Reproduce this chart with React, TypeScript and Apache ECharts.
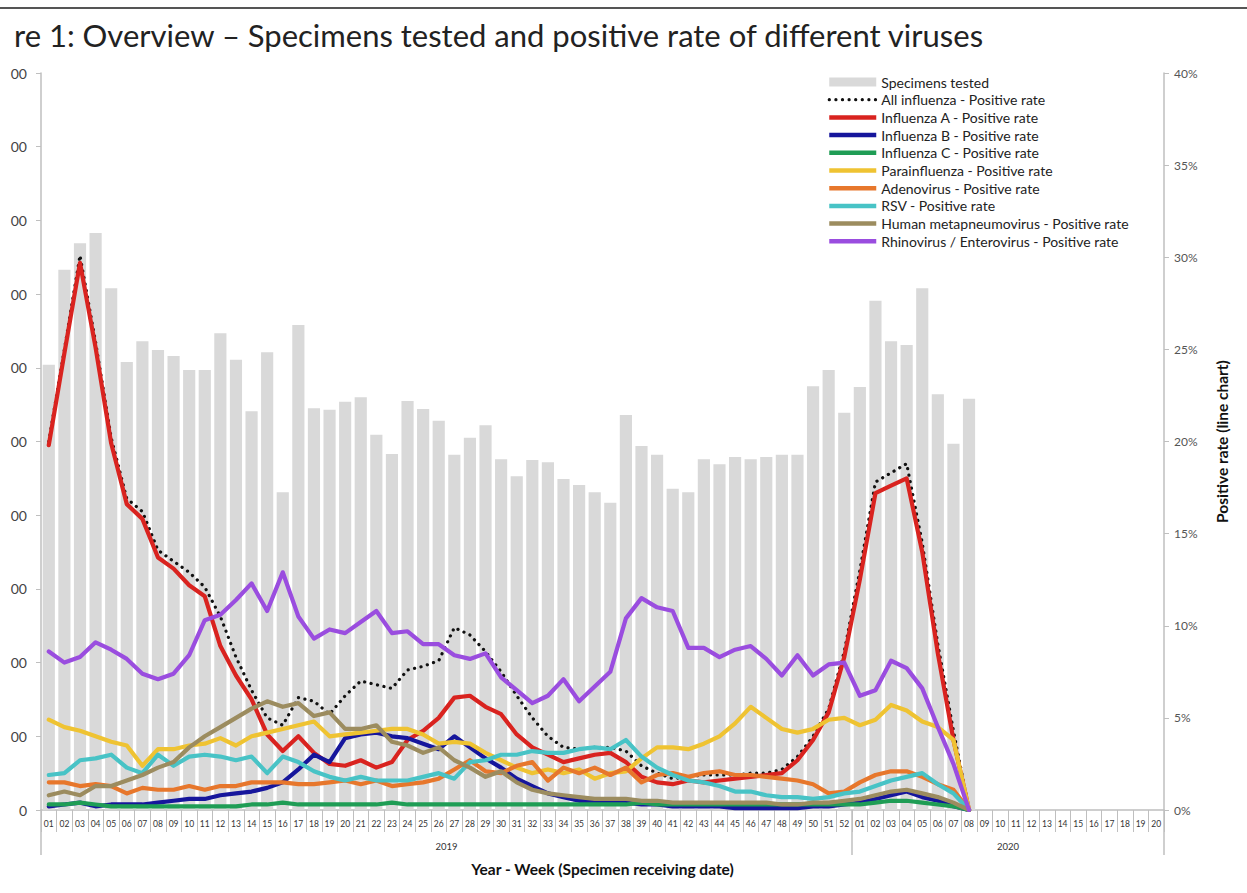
import React, { useEffect, useRef } from 'react';
import * as echarts from 'echarts';

// ---- categories / tick labels ----
const weekLabels = [
  '01','02','03','04','05','06','07','08','09','10','11','12','13','14','15','16','17','18','19','20',
  '21','22','23','24','25','26','27','28','29','30','31','32','33','34','35','36','37','38','39','40',
  '41','42','43','44','45','46','47','48','49','50','51','52',
  '01','02','03','04','05','06','07','08','09','10','11','12','13','14','15','16','17','18','19','20',
];
const yearLabels = ['2019', '2020'];
const yearWeekCounts = [52, 20];
const countTickLabels = ['0', '00', '00', '00', '00', '00', '00', '00', '00', '00', '00'];
const rateTickLabels = ['0%', '5%', '10%', '15%', '20%', '25%', '30%', '35%', '40%'];

// ---- series values (2019-W01 .. 2020-W08) ----
const specimensTested = [
  604, 733, 769, 783, 708, 608, 636, 624, 616, 597,
  597, 647, 611, 541, 621, 431, 658, 545, 543, 554,
  560, 509, 483, 555, 544, 528, 482, 505, 522, 476,
  453, 475, 472, 449, 441, 431, 417, 536, 494, 482,
  436, 431, 476, 469, 479, 476, 479, 482, 482, 575,
  597, 539, 574, 691, 636, 631, 708, 564, 497, 558,
];
const allInfluenza = [
  20.0, 25.0, 30.1, 25.4, 20.2, 16.9, 16.2, 14.1, 13.5, 12.9,
  12.1, 10.5, 8.3, 6.5, 5.0, 4.6, 6.1, 5.9, 5.2, 6.2,
  7.0, 6.8, 6.6, 7.6, 7.8, 8.1, 9.9, 9.5, 8.6, 7.5,
  6.2, 5.0, 4.0, 3.4, 3.3, 3.4, 3.4, 3.2, 2.4, 2.0,
  1.7, 1.8, 1.9, 1.9, 1.9, 2.0, 2.0, 2.2, 2.9, 4.0,
  5.5, 8.6, 13.0, 17.8, 18.3, 18.8, 14.5, 9.0, 4.3, 0,
];
const influenzaA = [
  19.8, 24.8, 29.7, 25.1, 19.9, 16.6, 15.8, 13.7, 13.1, 12.2,
  11.6, 8.9, 7.3, 6.0, 4.1, 3.2, 4.0, 3.1, 2.5, 2.4,
  2.7, 2.3, 2.6, 3.8, 4.3, 5.0, 6.1, 6.2, 5.6, 5.2,
  4.1, 3.4, 3.0, 2.6, 2.8, 3.0, 3.1, 2.6, 1.8, 1.5,
  1.4, 1.6, 1.5, 1.6, 1.7, 1.8, 1.9, 2.0, 2.7, 3.8,
  5.3, 8.3, 12.5, 17.2, 17.6, 18.0, 14.0, 8.5, 3.8, 0,
];
const influenzaB = [
  0.2, 0.3, 0.4, 0.2, 0.3, 0.3, 0.3, 0.4, 0.5, 0.6,
  0.6, 0.8, 0.9, 1.0, 1.2, 1.5, 2.2, 3.0, 2.6, 3.9,
  4.1, 4.2, 4.0, 3.9, 3.6, 3.3, 4.0, 3.4, 2.8, 2.3,
  1.7, 1.3, 0.9, 0.7, 0.5, 0.5, 0.4, 0.4, 0.3, 0.3,
  0.2, 0.2, 0.2, 0.2, 0.1, 0.1, 0.1, 0.1, 0.1, 0.2,
  0.2, 0.3, 0.4, 0.6, 0.8, 1.0, 0.7, 0.5, 0.2, 0,
];
const influenzaC = [
  0.3, 0.3, 0.4, 0.3, 0.2, 0.2, 0.2, 0.2, 0.2, 0.2,
  0.2, 0.2, 0.2, 0.3, 0.3, 0.4, 0.3, 0.3, 0.3, 0.3,
  0.3, 0.3, 0.4, 0.3, 0.3, 0.3, 0.3, 0.3, 0.3, 0.3,
  0.3, 0.3, 0.3, 0.3, 0.3, 0.3, 0.3, 0.3, 0.4, 0.3,
  0.3, 0.3, 0.3, 0.3, 0.3, 0.3, 0.3, 0.3, 0.3, 0.3,
  0.3, 0.3, 0.3, 0.4, 0.5, 0.5, 0.4, 0.3, 0.2, 0,
];
const parainfluenza = [
  4.9, 4.5, 4.3, 4.0, 3.7, 3.5, 2.4, 3.3, 3.3, 3.5,
  3.6, 3.9, 3.5, 4.0, 4.2, 4.4, 4.6, 4.8, 4.0, 4.1,
  4.2, 4.3, 4.4, 4.4, 4.1, 3.6, 3.7, 3.6, 3.1, 2.7,
  2.3, 2.0, 2.2, 2.0, 2.2, 1.7, 2.0, 2.1, 2.8, 3.4,
  3.4, 3.3, 3.6, 4.0, 4.7, 5.6, 5.0, 4.4, 4.2, 4.4,
  4.9, 5.0, 4.6, 4.9, 5.7, 5.4, 4.8, 4.5, 3.8, 0,
];
const adenovirus = [
  1.5, 1.5, 1.3, 1.4, 1.3, 0.9, 1.2, 1.1, 1.1, 1.3,
  1.1, 1.3, 1.3, 1.5, 1.5, 1.5, 1.4, 1.4, 1.5, 1.6,
  1.4, 1.6, 1.3, 1.4, 1.5, 1.7, 2.2, 2.7, 2.1, 2.0,
  2.4, 2.6, 1.6, 2.3, 2.0, 2.3, 1.9, 2.3, 1.5, 1.9,
  2.0, 1.8, 2.0, 2.1, 1.9, 1.9, 1.8, 1.7, 1.6, 1.4,
  0.9, 1.0, 1.5, 1.9, 2.1, 2.1, 1.8, 1.4, 1.1, 0,
];
const rsv = [
  1.9, 2.0, 2.7, 2.8, 3.0, 2.3, 2.0, 3.0, 2.4, 2.9,
  3.0, 2.9, 2.7, 2.9, 2.0, 2.9, 2.6, 2.1, 1.8, 1.6,
  1.8, 1.6, 1.6, 1.6, 1.8, 2.0, 1.7, 2.6, 2.7, 3.0,
  3.0, 3.2, 3.1, 3.1, 3.3, 3.4, 3.3, 3.8, 2.9, 2.3,
  1.9, 1.6, 1.5, 1.3, 1.0, 1.0, 0.8, 0.7, 0.7, 0.6,
  0.7, 0.9, 1.0, 1.3, 1.6, 1.8, 2.0, 1.4, 0.9, 0,
];
const humanMetapneumovirus = [
  0.8, 1.0, 0.8, 1.3, 1.3, 1.6, 1.9, 2.3, 2.6, 3.4,
  4.0, 4.5, 5.0, 5.5, 5.9, 5.6, 5.8, 5.1, 5.3, 4.4,
  4.4, 4.6, 3.7, 3.5, 3.1, 3.4, 2.7, 2.3, 1.8, 2.1,
  1.5, 1.1, 0.9, 0.8, 0.7, 0.6, 0.6, 0.6, 0.5, 0.5,
  0.4, 0.4, 0.4, 0.4, 0.4, 0.4, 0.4, 0.3, 0.3, 0.4,
  0.4, 0.5, 0.6, 0.8, 1.0, 1.1, 0.9, 0.7, 0.4, 0,
];
const rhinoEnterovirus = [
  8.6, 8.0, 8.3, 9.1, 8.7, 8.2, 7.4, 7.1, 7.4, 8.4,
  10.3, 10.6, 11.4, 12.3, 10.8, 12.9, 10.5, 9.3, 9.8, 9.6,
  10.2, 10.8, 9.6, 9.7, 9.0, 9.0, 8.4, 8.2, 8.5, 7.2,
  6.5, 5.8, 6.2, 7.1, 5.9, 6.7, 7.5, 10.4, 11.5, 11.0,
  10.8, 8.8, 8.8, 8.3, 8.7, 8.9, 8.2, 7.3, 8.4, 7.3,
  7.9, 8.0, 6.2, 6.5, 8.1, 7.7, 6.6, 4.5, 2.5, 0,
];

const FONT = 'Lato, "Liberation Sans", sans-serif';

export default function App() {
  const ref = useRef<HTMLDivElement>(null);

  useEffect(() => {
    if (!ref.current) return;
    const chart = echarts.init(ref.current, null, { renderer: 'svg' });

    const boundaries: number[] = [0];
    yearWeekCounts.forEach((c) => boundaries.push(boundaries[boundaries.length - 1] + c));
    const mids = yearWeekCounts.map((c, i) => boundaries[i] + c / 2);
    const totalWeeks = boundaries[boundaries.length - 1];

    const lineDefs = [
      { name: 'All influenza - Positive rate', data: allInfluenza, color: '#111111', dotted: true },
      { name: 'Influenza A - Positive rate', data: influenzaA, color: '#d9231f' },
      { name: 'Influenza B - Positive rate', data: influenzaB, color: '#16169c' },
      { name: 'Influenza C - Positive rate', data: influenzaC, color: '#1f9d55' },
      { name: 'Parainfluenza - Positive rate', data: parainfluenza, color: '#efc332' },
      { name: 'Adenovirus - Positive rate', data: adenovirus, color: '#e7772c' },
      { name: 'RSV - Positive rate', data: rsv, color: '#48c3c6' },
      { name: 'Human metapneumovirus - Positive rate', data: humanMetapneumovirus, color: '#9c8c5f' },
      { name: 'Rhinovirus / Enterovirus - Positive rate', data: rhinoEnterovirus, color: '#9a4ddf' },
    ];

    const lineSeries = lineDefs.map((d) => ({
      name: d.name,
      type: 'line',
      yAxisIndex: 1,
      data: d.data,
      symbol: 'none',
      showSymbol: false,
      z: 3,
      lineStyle: d.dotted
        ? { color: d.color, width: 3.2, type: [0.1, 6.5], cap: 'round' }
        : { color: d.color, width: 4.2, join: 'round', cap: 'round' },
      itemStyle: { color: d.color },
    }));

    const legendData = [
      { name: 'Specimens tested', icon: 'rect' },
      ...lineDefs.map((d) => ({
        name: d.name,
        itemStyle: { opacity: 0 },
        lineStyle: d.dotted
          ? { width: 3.2, color: d.color, type: [0.1, 6.5], cap: 'round' }
          : { width: 4.5, color: d.color, cap: 'butt' },
      })),
    ];

    chart.setOption({
      animation: false,
      backgroundColor: '#ffffff',
      title: {
        text: 're 1: Overview \u2013 Specimens tested and positive rate of different viruses',
        left: 9,
        top: 14,
        textStyle: { fontFamily: FONT, fontSize: 31, fontWeight: 'normal', color: '#222' },
      },
      graphic: [
        {
          type: 'line',
          shape: { x1: 0, y1: 8, x2: 1247, y2: 8 },
          style: { stroke: '#555', lineWidth: 2 },
        },
      ],
      legend: {
        orient: 'vertical',
        left: 822,
        top: 70,
        itemWidth: 47,
        itemHeight: 9,
        itemGap: 3.7,
        textStyle: { fontFamily: FONT, fontSize: 14, color: '#222', lineHeight: 14 },
        data: legendData,
      },
      grid: { left: 41, right: 83, top: 73, bottom: 83, containLabel: false },
      xAxis: [
        {
          type: 'category',
          data: weekLabels,
          boundaryGap: true,
          axisLine: { show: true, lineStyle: { color: '#bfbfbf', width: 1.5 } },
          axisTick: { show: true, interval: 0, length: 22, lineStyle: { color: '#bfbfbf' } },
          axisLabel: { interval: 0, fontSize: 8.5, color: '#333', fontFamily: FONT, margin: 9 },
          splitLine: { show: false },
        },
        {
          type: 'value',
          min: 0,
          max: totalWeeks,
          position: 'bottom',
          axisLine: { show: false },
          axisTick: {
            show: true,
            length: 45,
            customValues: boundaries,
            lineStyle: { color: '#bfbfbf', width: 1.5 },
          },
          axisLabel: {
            customValues: mids,
            fontSize: 9.5,
            color: '#333',
            fontFamily: FONT,
            margin: 31,
            formatter: (v: number) => {
              const idx = mids.findIndex((m) => Math.abs(m - v) < 0.01);
              return idx >= 0 ? yearLabels[idx] : '';
            },
          },
          splitLine: { show: false },
          name: 'Year - Week (Specimen receiving date)',
          nameLocation: 'middle',
          nameGap: 51,
          nameTextStyle: { fontFamily: FONT, fontSize: 15.5, fontWeight: 'bold', color: '#111' },
        },
      ],
      yAxis: [
        {
          type: 'value',
          min: 0,
          max: 1000,
          interval: 100,
          position: 'left',
          axisLine: { show: true, lineStyle: { color: '#bfbfbf', width: 1.5 } },
          axisTick: { show: true, length: 5, lineStyle: { color: '#bfbfbf' } },
          axisLabel: {
            fontSize: 14,
            color: '#444',
            fontFamily: FONT,
            margin: 14,
            formatter: (v: number) => countTickLabels[Math.round(v / 100)],
          },
          splitLine: { show: false },
        },
        {
          type: 'value',
          min: 0,
          max: 40,
          interval: 5,
          position: 'right',
          axisLine: { show: true, lineStyle: { color: '#bfbfbf', width: 1.5 } },
          axisTick: { show: true, length: 5, lineStyle: { color: '#bfbfbf' } },
          axisLabel: {
            fontSize: 12,
            color: '#555',
            fontFamily: FONT,
            margin: 10,
            formatter: (v: number) => rateTickLabels[Math.round(v / 5)],
          },
          splitLine: { show: false },
          name: 'Positive rate (line chart)',
          nameLocation: 'middle',
          nameRotate: 90,
          nameGap: 50,
          nameTextStyle: { fontFamily: FONT, fontSize: 15.5, fontWeight: 'bold', color: '#111' },
        },
      ],
      series: [
        {
          name: 'Specimens tested',
          type: 'bar',
          data: specimensTested,
          barCategoryGap: '22%',
          itemStyle: { color: '#d9d9d9' },
          z: 1,
        },
        ...lineSeries,
      ],
    });

    return () => chart.dispose();
  }, []);

  return (
    <div
      ref={ref}
      style={{ position: 'fixed', left: 0, top: 0, width: '1247px', height: '893px', background: '#fff' }}
    />
  );
}
